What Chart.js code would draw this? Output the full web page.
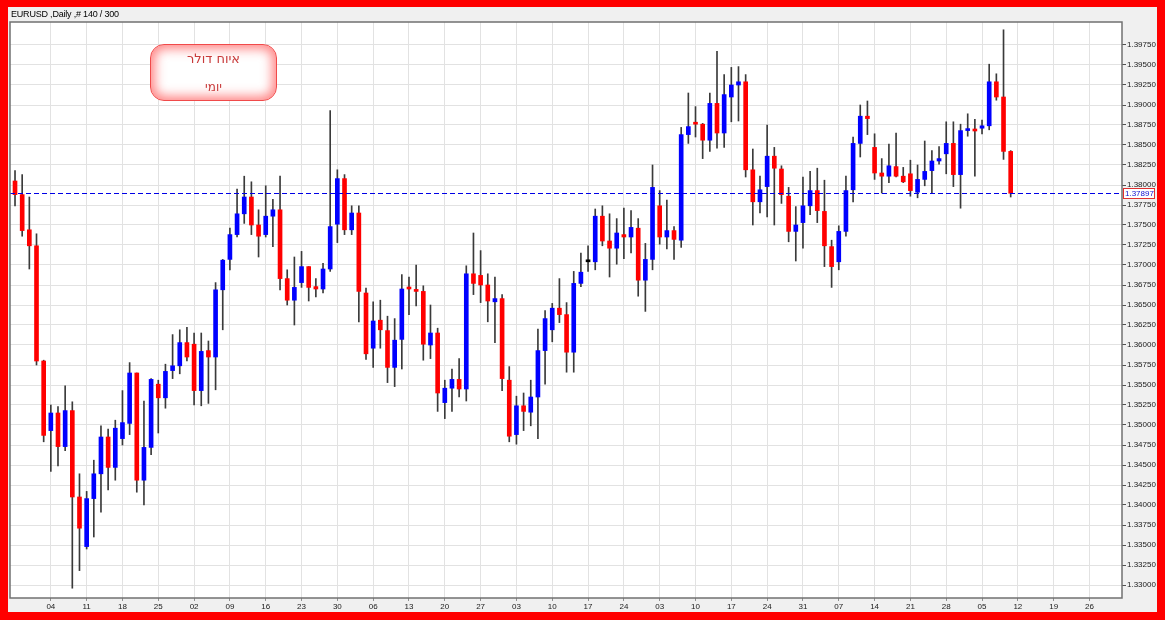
<!DOCTYPE html>
<html>
<head>
<meta charset="utf-8">
<script src="https://cdn.jsdelivr.net/npm/chart.js@4.4.0/dist/chart.umd.min.js"></script>
<style>
html, body { margin: 0; padding: 0; width: 1165px; height: 620px; overflow: hidden; background: #ff0000; }
#frame { position: absolute; left: 8px; top: 7px; width: 1149px; height: 605px; background: #f0f0f0; }
#chart { position: absolute; left: 0; top: 0; }
#title { position: absolute; left: 3px; top: 2px; font: 9px "Liberation Sans", sans-serif; color: #000; letter-spacing: -0.2px; }
#badge {
    position: absolute; left: 142px; top: 37px; width: 125px; height: 55px;
    border: 1px solid #f04a4a; border-radius: 14px; background: #fff;
    box-shadow: inset 0 0 11px 4px rgba(255, 95, 95, 0.75);
    font: 13px "DejaVu Sans", sans-serif; color: #c83a3a; text-align: center; direction: rtl;
}
#badge .l1 { position: absolute; left: 0; right: 0; top: 6px; }
#badge .l2 { position: absolute; left: 0; right: 0; top: 35px; font-size: 12px; }
</style>
</head>
<body>
<div id="frame">
    <canvas id="chart" width="1149" height="605"></canvas>
    <div id="title">EURUSD ,Daily ,# 140 / 300</div>
    <div id="badge"><div class="l1">איוח דולר</div><div class="l2">יומי</div></div>
</div>
<script>
// ===== Data =====
const weekLabels = ["04", "11", "18", "25", "02", "09", "16", "23", "30", "06", "13", "20", "27", "03", "10",
    "17", "24", "03", "10", "17", "24", "31", "07", "14", "21", "28", "05", "12", "19", "26"];

const priceTicks = [1.33, 1.3325, 1.335, 1.3375, 1.34, 1.3425, 1.345, 1.3475, 1.35, 1.3525, 1.355, 1.3575,
    1.36, 1.3625, 1.365, 1.3675, 1.37, 1.3725, 1.375, 1.3775, 1.38, 1.3825, 1.385, 1.3875, 1.39, 1.3925,
    1.395, 1.3975];

const opens = [
    1.3805, 1.3788, 1.3744, 1.3724, 1.3580, 1.3493, 1.3515, 1.3473, 1.3518, 1.3410,
    1.3348, 1.3408, 1.3439, 1.3485, 1.3447, 1.3483, 1.3502, 1.3565, 1.3431, 1.3472,
    1.3551, 1.3534, 1.3568, 1.3574, 1.3603, 1.3601, 1.3543, 1.3593, 1.3585, 1.3669,
    1.3707, 1.3738, 1.3764, 1.3785, 1.3750, 1.3738, 1.3761, 1.3769, 1.3683, 1.3656,
    1.3678, 1.3698, 1.3673, 1.3670, 1.3695, 1.3751, 1.3808, 1.3744, 1.3765, 1.3665,
    1.3596, 1.3631, 1.3618, 1.3572, 1.3607, 1.3672, 1.3669, 1.3667, 1.3600, 1.3615,
    1.3528, 1.3546, 1.3557, 1.3545, 1.3689, 1.3687, 1.3675, 1.3654, 1.3658, 1.3556,
    1.3488, 1.3524, 1.3516, 1.3535, 1.3593, 1.3619, 1.3646, 1.3638, 1.3591, 1.3677,
    1.3704, 1.3704, 1.3761, 1.3730, 1.3721, 1.3738, 1.3735, 1.3746, 1.3681, 1.3707,
    1.3774, 1.3735, 1.3743, 1.3731, 1.3863, 1.3878, 1.3876, 1.3856, 1.3902, 1.3865,
    1.3910, 1.3925, 1.3929, 1.3819, 1.3779, 1.3798, 1.3836, 1.3820, 1.3786, 1.3742,
    1.3753, 1.3774, 1.3793, 1.3767, 1.3723, 1.3704, 1.3742, 1.3794, 1.3852, 1.3886,
    1.3847, 1.3815, 1.3811, 1.3823, 1.3811, 1.3814, 1.3791, 1.3807, 1.3818, 1.3830,
    1.3839, 1.3852, 1.3813, 1.3868, 1.3870, 1.3871, 1.3874, 1.3929, 1.3910, 1.3842
];
const highs = [
    1.3818, 1.3813, 1.3785, 1.3739, 1.3581, 1.3525, 1.3523, 1.3549, 1.3529, 1.3439,
    1.3417, 1.3456, 1.3499, 1.3495, 1.3506, 1.3543, 1.3578, 1.3565, 1.3530, 1.3558,
    1.3556, 1.3576, 1.3613, 1.3619, 1.3622, 1.3615, 1.3615, 1.3605, 1.3678, 1.3707,
    1.3746, 1.3795, 1.3811, 1.3804, 1.3769, 1.3799, 1.3782, 1.3811, 1.3694, 1.3710,
    1.3717, 1.3698, 1.3683, 1.3702, 1.3893, 1.3819, 1.3813, 1.3774, 1.3774, 1.3671,
    1.3654, 1.3656, 1.3636, 1.3633, 1.3688, 1.3685, 1.3700, 1.3674, 1.3650, 1.3621,
    1.3556, 1.3570, 1.3583, 1.3699, 1.3740, 1.3718, 1.3689, 1.3685, 1.3663, 1.3573,
    1.3536, 1.3540, 1.3556, 1.3620, 1.3643, 1.3652, 1.3683, 1.3653, 1.3692, 1.3715,
    1.3724, 1.3770, 1.3774, 1.3764, 1.3758, 1.3771, 1.3768, 1.3758, 1.3727, 1.3825,
    1.3793, 1.3781, 1.3748, 1.3872, 1.3915, 1.3898, 1.3877, 1.3915, 1.3967, 1.3938,
    1.3947, 1.3948, 1.3938, 1.3845, 1.3811, 1.3875, 1.3847, 1.3824, 1.3797, 1.3773,
    1.3810, 1.3817, 1.3821, 1.3806, 1.3731, 1.3749, 1.3811, 1.3860, 1.3900, 1.3905,
    1.3864, 1.3833, 1.3851, 1.3865, 1.3822, 1.3831, 1.3825, 1.3855, 1.3843, 1.3848,
    1.3879, 1.3879, 1.3876, 1.3889, 1.3882, 1.3881, 1.3951, 1.3939, 1.3994, 1.3843
];
const lows = [
    1.3774, 1.3736, 1.3695, 1.3575, 1.3479, 1.3442, 1.3449, 1.3468, 1.3296, 1.3318,
    1.3345, 1.3360, 1.3391, 1.3419, 1.3431, 1.3475, 1.3488, 1.3416, 1.3400, 1.3463,
    1.3490, 1.3521, 1.3558, 1.3564, 1.3580, 1.3525, 1.3524, 1.3527, 1.3544, 1.3619,
    1.3694, 1.3735, 1.3752, 1.3738, 1.3710, 1.3735, 1.3723, 1.3669, 1.3650, 1.3625,
    1.3672, 1.3655, 1.3660, 1.3665, 1.3692, 1.3728, 1.3738, 1.3738, 1.3629, 1.3582,
    1.3572, 1.3596, 1.3553, 1.3548, 1.3570, 1.3638, 1.3649, 1.3581, 1.3583, 1.3517,
    1.3508, 1.3517, 1.3535, 1.3530, 1.3663, 1.3653, 1.3629, 1.3603, 1.3543, 1.3479,
    1.3476, 1.3493, 1.3499, 1.3483, 1.3551, 1.3604, 1.3628, 1.3566, 1.3566, 1.3673,
    1.3692, 1.3694, 1.3724, 1.3685, 1.3701, 1.3708, 1.3715, 1.3661, 1.3642, 1.3694,
    1.3726, 1.3720, 1.3707, 1.3722, 1.3852, 1.3860, 1.3833, 1.3842, 1.3846, 1.3847,
    1.3879, 1.3880, 1.3810, 1.3750, 1.3765, 1.3760, 1.3750, 1.3777, 1.3729, 1.3705,
    1.3721, 1.3763, 1.3753, 1.3698, 1.3672, 1.3694, 1.3736, 1.3779, 1.3835, 1.3863,
    1.3807, 1.3790, 1.3803, 1.3810, 1.3803, 1.3786, 1.3784, 1.3799, 1.3790, 1.3826,
    1.3814, 1.3798, 1.3771, 1.3861, 1.3811, 1.3864, 1.3869, 1.3906, 1.3832, 1.3785
];
const closes = [
    1.3788, 1.3743, 1.3724, 1.3580, 1.3487, 1.3515, 1.3473, 1.3518, 1.3410, 1.3371,
    1.3408, 1.3439, 1.3485, 1.3447, 1.3496, 1.3503, 1.3565, 1.3431, 1.3472, 1.3557,
    1.3534, 1.3567, 1.3574, 1.3603, 1.3585, 1.3543, 1.3592, 1.3585, 1.3669, 1.3706,
    1.3738, 1.3764, 1.3785, 1.3750, 1.3736, 1.3761, 1.3769, 1.3683, 1.3656, 1.3672,
    1.3698, 1.3672, 1.3670, 1.3695, 1.3748, 1.3808, 1.3744, 1.3765, 1.3667, 1.3589,
    1.3630, 1.3619, 1.3572, 1.3606, 1.3670, 1.3670, 1.3667, 1.3601, 1.3615, 1.3540,
    1.3546, 1.3557, 1.3545, 1.3689, 1.3677, 1.3675, 1.3655, 1.3658, 1.3558, 1.3486,
    1.3524, 1.3517, 1.3535, 1.3593, 1.3633, 1.3646, 1.3638, 1.3591, 1.3677, 1.3691,
    1.3704, 1.3761, 1.3730, 1.3721, 1.3740, 1.3735, 1.3747, 1.3681, 1.3707, 1.3797,
    1.3735, 1.3743, 1.3732, 1.3863, 1.3873, 1.3876, 1.3856, 1.3902, 1.3865, 1.3913,
    1.3925, 1.3929, 1.3819, 1.3779, 1.3794, 1.3836, 1.3821, 1.3788, 1.3742, 1.3750,
    1.3774, 1.3793, 1.3768, 1.3724, 1.3698, 1.3742, 1.3793, 1.3852, 1.3886, 1.3883,
    1.3815, 1.3811, 1.3824, 1.3811, 1.3804, 1.3793, 1.3807, 1.3817, 1.3830, 1.3833,
    1.3852, 1.3813, 1.3868, 1.3870, 1.38675, 1.3874, 1.3929, 1.3910, 1.3842, 1.37897
];

const lastPrice = 1.37897;

// ===== Candles as floating bars =====
const bodies = opens.map((o, i) => ({ x: i, y: [o, closes[i]] }));
const wicks = highs.map((h, i) => ({ x: i, y: [lows[i], h] }));
const bodyColors = opens.map((o, i) => closes[i] > o ? "#0000ff" : (closes[i] < o ? "#ff0000" : "#000000"));

const axisFont = { family: "'Liberation Sans', sans-serif", size: 8 };

// plot background, border, bid line and its label
const framePlugin = {
    id: "frame",
    beforeDraw(chart) {
        const a = chart.chartArea;
        const ctx = chart.ctx;
        ctx.save();
        ctx.fillStyle = "#ffffff";
        ctx.fillRect(a.left, a.top, a.right - a.left, a.bottom - a.top);
        ctx.restore();
    },
    afterDraw(chart) {
        const a = chart.chartArea;
        const ctx = chart.ctx;
        const y = Math.round(chart.scales.y.getPixelForValue(lastPrice)) + 0.5;
        ctx.save();
        ctx.strokeStyle = "#0000e6";
        ctx.lineWidth = 1;
        ctx.setLineDash([5, 3]);
        ctx.beginPath();
        ctx.moveTo(a.left, y);
        ctx.lineTo(a.right, y);
        ctx.stroke();
        ctx.setLineDash([]);

        ctx.strokeStyle = "#707070";
        ctx.lineWidth = 1.5;
        ctx.strokeRect(a.left, a.top, a.right - a.left, a.bottom - a.top);

        ctx.fillStyle = "#ffffff";
        ctx.fillRect(a.right + 1, y - 5.5, 32, 11);
        ctx.strokeStyle = "#e03030";
        ctx.lineWidth = 1;
        ctx.strokeRect(a.right + 1.5, y - 5, 31, 10);
        ctx.fillStyle = "#1010d0";
        ctx.font = "8px 'Liberation Sans', sans-serif";
        ctx.textBaseline = "middle";
        ctx.fillText(lastPrice.toFixed(5), a.right + 3, y + 0.5);
        ctx.restore();
    }
};

new Chart(document.getElementById("chart"), {
    type: "bar",
    data: {
        datasets: [
            { data: bodies, backgroundColor: bodyColors, barThickness: 4, minBarLength: 2, grouped: false },
            { data: wicks, backgroundColor: "#3a3a3a", barThickness: 1, grouped: false }
        ]
    },
    options: {
        responsive: false,
        animation: false,
        layout: { padding: { left: 2, top: 15, right: 0, bottom: 0 } },
        plugins: { legend: { display: false }, tooltip: { enabled: false } },
        scales: {
            x: {
                type: "linear",
                min: -0.7,
                max: 154.54,
                offset: false,
                afterBuildTicks: s => { s.ticks = weekLabels.map((_, k) => ({ value: 5 + 5 * k })); },
                afterFit: s => { s.height = 14; },
                ticks: {
                    callback: v => weekLabels[Math.round((v - 5) / 5)],
                    autoSkip: false, maxRotation: 0, padding: 1,
                    font: axisFont, color: "#202020"
                },
                grid: { color: "#e2e2e2", offset: false, tickLength: 3, tickColor: "#909090" },
                border: { display: false }
            },
            y: {
                position: "right",
                min: 1.328375,
                max: 1.400375,
                afterBuildTicks: s => { s.ticks = priceTicks.map(v => ({ value: v })); },
                afterFit: s => { s.width = 35; },
                ticks: {
                    callback: v => v.toFixed(5),
                    padding: 1,
                    font: axisFont, color: "#202020"
                },
                grid: { color: "#e2e2e2", tickLength: 4, tickColor: "#505050" },
                border: { display: false }
            }
        }
    },
    plugins: [framePlugin]
});
</script>
</body>
</html>
